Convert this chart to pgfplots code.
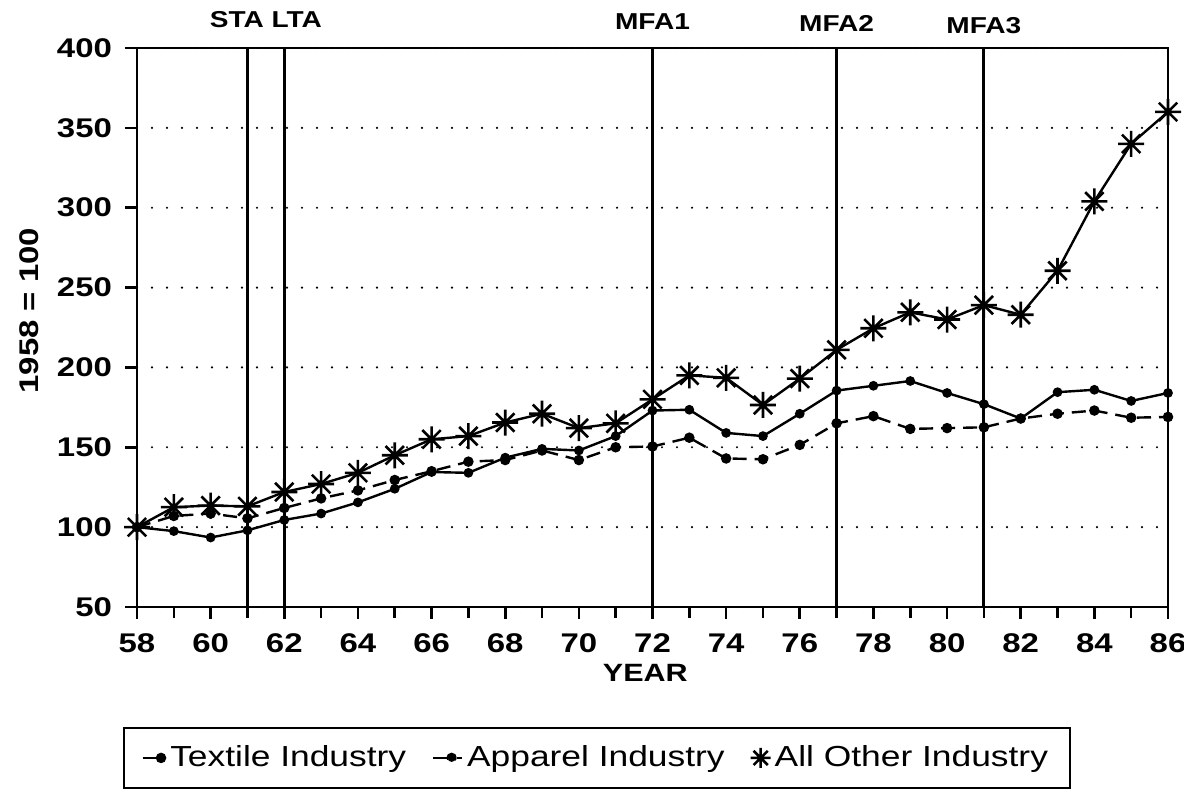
\documentclass[border=0pt]{standalone}
\usepackage{fontspec}
\setmainfont{Liberation Sans}[FakeStretch=1.22]
\usepackage{pgfplots}
\pgfplotsset{compat=1.18}
\pgfdeclareplotmark{ast}{%
  \pgfpathmoveto{\pgfqpoint{-\pgfplotmarksize}{0pt}}\pgfpathlineto{\pgfqpoint{\pgfplotmarksize}{0pt}}%
  \pgfpathmoveto{\pgfqpoint{0pt}{-\pgfplotmarksize}}\pgfpathlineto{\pgfqpoint{0pt}{\pgfplotmarksize}}%
  \pgfpathmoveto{\pgfqpoint{-0.707\pgfplotmarksize}{-0.707\pgfplotmarksize}}\pgfpathlineto{\pgfqpoint{0.707\pgfplotmarksize}{0.707\pgfplotmarksize}}%
  \pgfpathmoveto{\pgfqpoint{-0.707\pgfplotmarksize}{0.707\pgfplotmarksize}}\pgfpathlineto{\pgfqpoint{0.707\pgfplotmarksize}{-0.707\pgfplotmarksize}}%
  \pgfusepathqstroke}
\begin{document}
\begin{tikzpicture}
\path[use as bounding box] (0,0) rectangle (592pt,406pt);
\begin{axis}[
  at={(68.5pt,102.5pt)}, anchor=south west, scale only axis,
  width=515.5pt, height=279.5pt,
  xmin=58, xmax=86, ymin=50, ymax=400,
  xtick={58,60,...,86}, minor xtick={59,61,...,85},
  ytick={50,100,...,400},
  tick pos=left, tick align=outside,
  major tick length=6pt, minor tick length=5.5pt,
  every tick/.style={black, line width=1.3pt},
  axis line style={line width=1.4pt},
  ymajorgrids,
  grid style={black, line width=1.2pt, line cap=round, dash pattern=on 0pt off 7.5pt},
  /pgf/number format/assume math mode=true,
  ticklabel style={font=\fontsize{13.5}{15}\selectfont\bfseries},
  xticklabel style={yshift=-4pt},
  yticklabel style={xshift=-3pt},
  xlabel={YEAR},
  xlabel style={at={(axis description cs:0.493,-0.118)}, anchor=center, font=\fontsize{12.5}{14}\selectfont\bfseries},
  ylabel={1958 = 100},
  ylabel style={at={(axis description cs:-0.105,0.53)}, anchor=center, rotate=0, font=\fontsize{13.5}{15}\selectfont\bfseries},
  clip=false,
  legend columns=3,
  legend cell align=left,
  legend style={at={(0.446,-0.27)}, anchor=center, draw=black, line width=1.1pt,
    font=\fontsize{14.5}{16}\selectfont, inner xsep=9pt, inner ysep=7pt,
    /tikz/every even column/.append style={column sep=11pt}},
]
% event lines
\addplot[black, line width=1.6pt, forget plot] coordinates {(61,50) (61,400)};
\addplot[black, line width=1.6pt, forget plot] coordinates {(62,50) (62,400)};
\addplot[black, line width=1.6pt, forget plot] coordinates {(72,50) (72,400)};
\addplot[black, line width=1.6pt, forget plot] coordinates {(77,50) (77,400)};
\addplot[black, line width=1.6pt, forget plot] coordinates {(81,50) (81,400)};
% Textile
\addplot[black, line width=1.2pt, mark=*, mark size=1.8pt,
  legend image code/.code={\draw[black,line width=1.2pt] (0cm,0cm) -- (0.32cm,0cm); \fill[black] (0.32cm,0cm) circle (2pt);}]
coordinates {
(58,100) (59,97.5) (60,93.5) (61,98) (62,104.5) (63,108.5) (64,115.5) (65,124)
(66,134.5) (67,134) (68,143.5) (69,149) (70,148) (71,157) (72,173) (73,173.5)
(74,159) (75,157) (76,171) (77,185.5) (78,188.5) (79,191.5) (80,184) (81,177)
(82,168) (83,184.5) (84,186) (85,179) (86,184)};
\addlegendentry{Textile Industry}
% Apparel
\addplot[black, line width=1.2pt, dash pattern=on 7pt off 4pt, mark=*, mark size=2pt, mark options={solid},
  legend image code/.code={\draw[black,line width=1.2pt] (0cm,0cm) -- (0.28cm,0cm); \fill[black] (0.32cm,0cm) circle (2pt); \draw[black,line width=1.2pt] (0.42cm,0cm) -- (0.5cm,0cm);}]
coordinates {
(58,100) (59,107) (60,108.5) (61,105.5) (62,112) (63,118) (64,123) (65,129.5)
(66,135) (67,141) (68,142) (69,148) (70,142) (71,150) (72,150.5) (73,156)
(74,143) (75,142.5) (76,151.5) (77,165) (78,169.5) (79,161.5) (80,162) (81,162.5)
(82,168) (83,171) (84,173) (85,168.5) (86,169)};
\addlegendentry{Apparel Industry}
% All other
\addplot[black, line width=1.2pt, mark=ast, mark size=6.5pt, mark options={line width=1.3pt},
  legend image code/.code={\draw[black,line width=1pt,mark size=5pt] plot[mark=ast] coordinates {(0.25cm,0cm)};}]
coordinates {
(58,100) (59,112.5) (60,113.5) (61,113) (62,122) (63,127) (64,134) (65,145)
(66,155) (67,157) (68,165.5) (69,171) (70,162) (71,165) (72,180) (73,195)
(74,193.5) (75,176.5) (76,193) (77,211) (78,224.5) (79,234.5) (80,230) (81,239)
(82,233) (83,260.5) (84,304) (85,340) (86,360)};
\addlegendentry{All Other Industry}
% event labels
\node[anchor=south, inner sep=0pt, yshift=10pt, font=\fontsize{11.5}{12}\selectfont\bfseries] at (axis cs:61.5,400) {STA\,\,LTA};
\node[anchor=south, inner sep=0pt, yshift=9pt, font=\fontsize{11.5}{12}\selectfont\bfseries] at (axis cs:72,400) {MFA1};
\node[anchor=south, inner sep=0pt, yshift=8pt, font=\fontsize{11.5}{12}\selectfont\bfseries] at (axis cs:77,400) {MFA2};
\node[anchor=south, inner sep=0pt, yshift=7pt, font=\fontsize{11.5}{12}\selectfont\bfseries] at (axis cs:81,400) {MFA3};
\end{axis}
\end{tikzpicture}
\end{document}
